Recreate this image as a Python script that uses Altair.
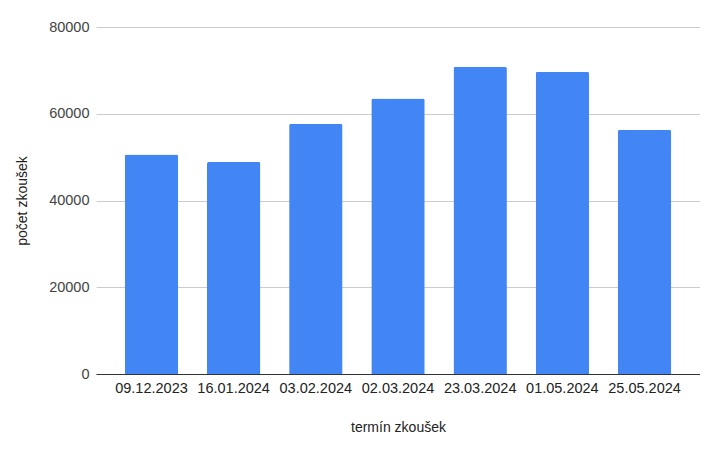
import altair as alt
import pandas as pd

terminy = ["09.12.2023", "16.01.2024", "03.02.2024", "02.03.2024", "23.03.2024", "01.05.2024", "25.05.2024"]
pocty = [50600, 48900, 57700, 63500, 70800, 69700, 56300]

df = pd.DataFrame({"termin": terminy, "pocet": pocty})

FONT = "Liberation Sans"

chart = alt.Chart(df).mark_bar(
    color="#4285F4",
    cornerRadiusTopLeft=2,
    cornerRadiusTopRight=2,
).encode(
    x=alt.X("termin:N", sort=terminy, title="termín zkoušek",
            scale=alt.Scale(paddingInner=0.35, paddingOuter=0.35),
            axis=alt.Axis(labelAngle=0, ticks=False, labelPadding=7,
                          domainColor="#333333", domainWidth=1,
                          labelColor="#222222", labelFontSize=14.5, labelFont=FONT,
                          titleColor="#222222", titleFontSize=14, titleFont=FONT,
                          titleFontWeight="normal", titlePadding=26)),
    y=alt.Y("pocet:Q", title="počet zkoušek",
            scale=alt.Scale(domain=[0, 80000], nice=False),
            axis=alt.Axis(values=[0, 20000, 40000, 60000, 80000], format="d",
                          ticks=False, domain=False, labelPadding=7,
                          gridColor="#cccccc", gridWidth=1,
                          labelColor="#444444", labelFontSize=14.5, labelFont=FONT,
                          titleColor="#222222", titleFontSize=14, titleFont=FONT,
                          titleFontWeight="normal", titlePadding=19)),
).properties(
    width=604,
    height=347,
    autosize=alt.AutoSizeParams(type="none"),
    padding={"left": 88, "top": 19, "right": 0, "bottom": 68},
).configure_view(stroke=None)

chart.save("out.html", embed_options={"renderer": "svg", "actions": False})
